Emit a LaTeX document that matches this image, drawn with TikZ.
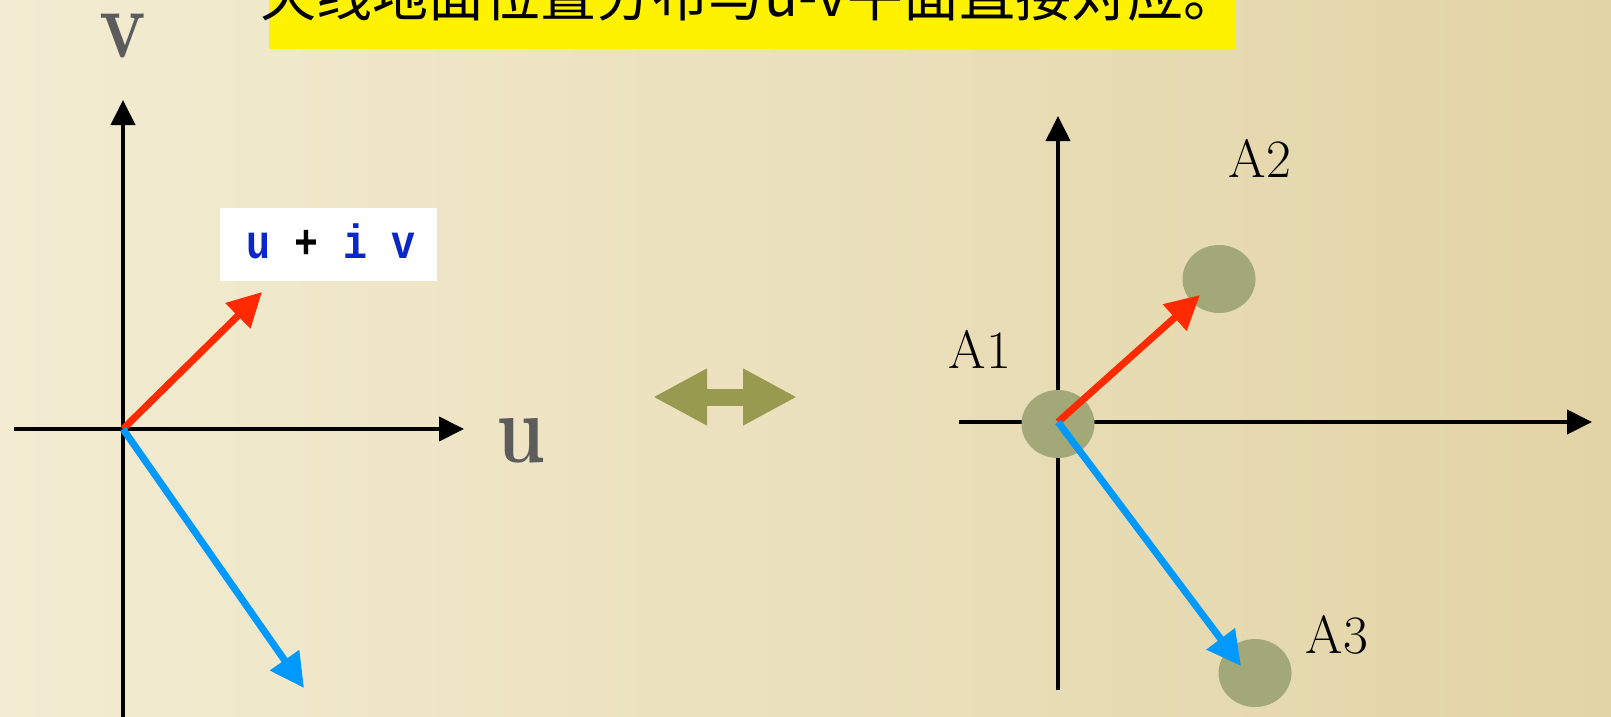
\documentclass[tikz,border=0pt]{standalone}
\usepackage{fontspec}
\newfontfamily\cjk{Noto Sans CJK SC}
\newfontfamily\monob{Liberation Mono}
\usetikzlibrary{arrows.meta,shapes.geometric}
\definecolor{paperA}{RGB}{243,236,210}
\definecolor{paperM}{RGB}{240,231,202}
\definecolor{paperB}{RGB}{226,212,166}
\definecolor{dot}{RGB}{162,168,120}
\definecolor{olive}{RGB}{151,154,79}
\definecolor{vred}{RGB}{255,42,0}
\definecolor{vblue}{RGB}{0,153,255}
\definecolor{ivblue}{RGB}{10,40,200}
\definecolor{lblgray}{RGB}{92,92,92}
\tikzset{
  axis/.style={line width=4pt,black,-{Triangle[length=25pt,width=24pt]}},
  vec/.style={line width=7pt,-{Triangle[length=34pt,width=34pt]}},
  spot/.style={ellipse,fill=dot,draw=none,minimum width=73pt,minimum height=68pt,inner sep=0pt},
  alabel/.style={font=\fontsize{54}{54}\selectfont,anchor=base,inner sep=0pt},
  axlabel/.style={font=\fontsize{98}{98}\selectfont\bfseries,text=lblgray,anchor=base,inner sep=0pt},
  dbl/.style={line width=17pt,olive,{Triangle[length=54pt,width=53pt]}-{Triangle[length=54pt,width=53pt]}}
}
\begin{document}
\begin{tikzpicture}[x=1pt,y=-1pt]
\useasboundingbox (0,0) rectangle (1611,717);
\clip (0,0) rectangle (1611,717);
\shade[left color=paperA,middle color=paperM,right color=paperB] (0,0) rectangle (1611,717);
% title box
\node[fill=yellow,minimum width=966pt,minimum height=80pt,inner sep=0pt,anchor=south west] (titlebox) at (269,49) {};
\node[font=\cjk\fontsize{56}{56}\selectfont,anchor=base,inner sep=0pt] (title) at (750,17) {天线地面位置分布与u-v平面直接对应。};
% left diagram
\coordinate (o1) at (123,429);
\coordinate (uL) at (14,429);
\coordinate (uR) at (464,429);
\coordinate (vB) at (123,717);
\coordinate (vT) at (123,100);
\draw[axis] (uL) -- (uR);
\draw[axis] (vB) -- (vT);
\node[axlabel] (vlab) at (123,58) {\scalebox{0.8}[1]{v}};
\node[axlabel] (ulab) at (521,462) {\scalebox{0.8}[1]{u}};
\node[fill=white,minimum width=217pt,minimum height=73pt,inner sep=0pt,anchor=north west] (ivbox) at (220,208) {};
\node[font=\monob\bfseries\fontsize{40}{40}\selectfont,anchor=base,inner sep=0pt] (ivtext) at (331,258) {\scalebox{1}[1.2]{\textcolor{ivblue}{u}~+~\textcolor{ivblue}{i}~\textcolor{ivblue}{v}}};
\coordinate (r1) at (262,292);
\coordinate (b1) at (304,688);
\draw[vec,vred] (o1) -- (r1);
\draw[vec,vblue] (o1) -- (b1);
% double arrow
\coordinate (dL) at (653,397);
\coordinate (dR) at (797,397);
\draw[dbl] (dL) -- (dR);
% right diagram
\coordinate (o2) at (1058,422);
\coordinate (xL) at (959,422);
\coordinate (xR) at (1592,422);
\coordinate (yB) at (1058,690);
\coordinate (yT) at (1058,116);
\draw[axis] (xL) -- (xR);
\draw[axis] (yB) -- (yT);
\node[spot] (A1) at (1058,424) {};
\node[spot] (A2) at (1219,279) {};
\node[spot] (A3) at (1255,673) {};
\coordinate (r2) at (1200,295);
\coordinate (b2) at (1241,666);
\draw[vec,vred] (o2) -- (r2);
\draw[vec,vblue] (o2) -- (b2);
\node[alabel] (lA1) at (980,368) {A1};
\node[alabel] (lA2) at (1260,177) {A2};
\node[alabel] (lA3) at (1337,653) {A3};
\end{tikzpicture}
\end{document}
